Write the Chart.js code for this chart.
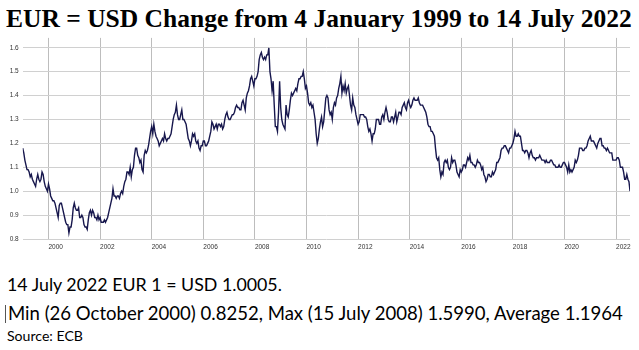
<!DOCTYPE html>
<html>
<head>
<meta charset="utf-8">
<script src="https://cdn.jsdelivr.net/npm/chart.js@4/dist/chart.umd.min.js"></script>
<style>
  html, body { margin: 0; padding: 0; background: #fff; }
  #page { position: relative; width: 639px; height: 350px; overflow: hidden; }
  #title { position: absolute; left: 6px; white-space: nowrap; font-family: "Liberation Serif", serif; font-weight: bold; color: #000; line-height: 1.107; }
  .note { position: absolute; white-space: nowrap; font-family: Lato, sans-serif; color: #000; line-height: 1.2; }
  #cursor { position: absolute; left: 5px; top: 305px; width: 1px; height: 18px; background: #555; }
  #wrap { position: absolute; left: 0; top: 30px; width: 631px; height: 226px; overflow: hidden; }
</style>
</head>
<body>
<div id="page">
  <div id="title">EUR = USD Change from 4 January 1999 to 14 July 2022</div>
  <div id="wrap"><canvas id="fxChart" width="639" height="226"></canvas></div>
  <div class="note" id="line1">14 July 2022 EUR 1 = USD 1.0005.</div>
  <div id="cursor"></div>
  <div class="note" id="line2">Min (26 October 2000) 0.8252, Max (15 July 2008) 1.5990, Average 1.1964</div>
  <div class="note" id="source">Source: ECB</div>
</div>
<script>
  //---------------------------------------------------
  // Data: EUR/USD, two readings per month (1st and 2nd half)
  //---------------------------------------------------
  const firstYear = 1999;
  const perYear = 24;

  const y1999 = [1.18,1.16, 1.13,1.11, 1.09,1.09, 1.08,1.06, 1.07,1.05, 1.04,1.03, 1.02,1.05, 1.07,1.05, 1.04,1.05, 1.08,1.07, 1.04,1.02, 1.01,1.00];
  const y2000 = [1.03,1.01, 0.98,0.97, 0.96,0.96, 0.95,0.93, 0.91,0.89, 0.94,0.95, 0.95,0.93, 0.91,0.89, 0.87,0.86, 0.86,0.8252, 0.85,0.85, 0.88,0.93];
  const y2001 = [0.95,0.93, 0.92,0.92, 0.93,0.89, 0.89,0.90, 0.89,0.86, 0.85,0.85, 0.84,0.88, 0.91,0.92, 0.90,0.92, 0.91,0.89, 0.89,0.88, 0.90,0.88];
  const y2002 = [0.89,0.87, 0.87,0.87, 0.88,0.87, 0.88,0.89, 0.91,0.93, 0.95,0.97, 1.01,0.98, 0.98,0.97, 0.98,0.98, 0.97,0.99, 1.00,0.99, 1.02,1.04];
  const y2003 = [1.05,1.08, 1.08,1.07, 1.10,1.06, 1.09,1.10, 1.15,1.18, 1.18,1.15, 1.14,1.12, 1.13,1.09, 1.08,1.15, 1.17,1.16, 1.17,1.19, 1.22,1.25];
  const y2004 = [1.27,1.24, 1.28,1.25, 1.23,1.22, 1.21,1.19, 1.20,1.21, 1.22,1.21, 1.24,1.22, 1.21,1.22, 1.22,1.23, 1.24,1.27, 1.30,1.32, 1.33,1.36];
  const y2005 = [1.32,1.30, 1.30,1.32, 1.34,1.30, 1.30,1.29, 1.28,1.25, 1.22,1.21, 1.19,1.21, 1.24,1.23, 1.24,1.21, 1.20,1.21, 1.18,1.17, 1.19,1.19];
  const y2006 = [1.21,1.21, 1.19,1.19, 1.20,1.21, 1.23,1.25, 1.29,1.28, 1.26,1.27, 1.28,1.26, 1.28,1.28, 1.27,1.28, 1.26,1.27, 1.30,1.32, 1.33,1.31];
  const y2007 = [1.30,1.30, 1.31,1.32, 1.32,1.33, 1.35,1.36, 1.35,1.35, 1.34,1.34, 1.37,1.38, 1.36,1.34, 1.39,1.41, 1.42,1.44, 1.47,1.48, 1.46,1.44];
  const y2008 = [1.47,1.47, 1.48,1.50, 1.55,1.57, 1.58,1.56, 1.55,1.56, 1.55,1.57, 1.57,1.599, 1.50,1.47, 1.42,1.46, 1.36,1.27, 1.27,1.25, 1.33,1.46];
  const y2009 = [1.35,1.30, 1.28,1.27, 1.26,1.36, 1.32,1.31, 1.34,1.38, 1.41,1.40, 1.41,1.42, 1.43,1.42, 1.45,1.47, 1.47,1.48, 1.48,1.50, 1.47,1.43];
  const y2010 = [1.44,1.41, 1.37,1.36, 1.37,1.35, 1.36,1.33, 1.30,1.24, 1.20,1.22, 1.26,1.29, 1.31,1.27, 1.29,1.34, 1.39,1.40, 1.39,1.34, 1.32,1.33];
  const y2011 = [1.30,1.35, 1.37,1.36, 1.39,1.40, 1.43,1.45, 1.48,1.41, 1.44,1.42, 1.45,1.41, 1.43,1.44, 1.40,1.36, 1.34,1.39, 1.36,1.35, 1.32,1.30];
  const y2012 = [1.28,1.29, 1.32,1.32, 1.32,1.32, 1.31,1.31, 1.30,1.27, 1.25,1.26, 1.24,1.21, 1.24,1.24, 1.26,1.30, 1.30,1.30, 1.28,1.28, 1.31,1.32];
  const y2013 = [1.30,1.33, 1.35,1.33, 1.30,1.29, 1.29,1.31, 1.31,1.29, 1.31,1.33, 1.29,1.31, 1.33,1.33, 1.32,1.35, 1.36,1.37, 1.35,1.34, 1.37,1.38];
  const y2014 = [1.36,1.35, 1.36,1.38, 1.39,1.38, 1.38,1.38, 1.39,1.37, 1.36,1.36, 1.36,1.35, 1.34,1.33, 1.31,1.28, 1.27,1.27, 1.25,1.25, 1.24,1.23];
  const y2015 = [1.18,1.14, 1.13,1.14, 1.09,1.06, 1.08,1.07, 1.12,1.13, 1.12,1.13, 1.10,1.09, 1.10,1.14, 1.12,1.13, 1.13,1.11, 1.08,1.07, 1.06,1.09];
  const y2016 = [1.08,1.09, 1.11,1.11, 1.10,1.12, 1.14,1.13, 1.15,1.12, 1.12,1.11, 1.11,1.10, 1.11,1.13, 1.12,1.12, 1.11,1.09, 1.10,1.07, 1.06,1.04];
  const y2017 = [1.05,1.07, 1.07,1.06, 1.06,1.08, 1.07,1.08, 1.09,1.12, 1.12,1.13, 1.14,1.17, 1.18,1.18, 1.19,1.19, 1.18,1.17, 1.16,1.18, 1.18,1.19];
  const y2018 = [1.20,1.22, 1.25,1.23, 1.23,1.24, 1.23,1.23, 1.20,1.17, 1.17,1.16, 1.17,1.17, 1.16,1.14, 1.16,1.17, 1.15,1.14, 1.14,1.13, 1.14,1.14];
  const y2019 = [1.14,1.15, 1.14,1.13, 1.13,1.13, 1.12,1.13, 1.12,1.12, 1.12,1.13, 1.13,1.12, 1.11,1.11, 1.10,1.10, 1.10,1.11, 1.10,1.10, 1.11,1.12];
  const y2020 = [1.12,1.11, 1.10,1.08, 1.11,1.08, 1.09,1.08, 1.09,1.10, 1.13,1.12, 1.13,1.15, 1.18,1.18, 1.18,1.17, 1.17,1.18, 1.18,1.19, 1.21,1.22];
  const y2021 = [1.23,1.21, 1.21,1.21, 1.20,1.19, 1.18,1.20, 1.21,1.22, 1.22,1.19, 1.19,1.18, 1.18,1.17, 1.18,1.17, 1.16,1.16, 1.16,1.13, 1.13,1.13];
  const y2022 = [1.13,1.14, 1.14,1.13, 1.10,1.10, 1.10,1.08, 1.05,1.05, 1.07,1.05, 1.04,1.0005];

  const yearTicks = [2000, 2002, 2004, 2006, 2008, 2010, 2012, 2014, 2016, 2018, 2020, 2022];
  const rateTicks = [0.8, 0.9, 1.0, 1.1, 1.2, 1.3, 1.4, 1.5, 1.6];

  const years = [y1999, y2000, y2001, y2002, y2003, y2004, y2005, y2006, y2007, y2008, y2009, y2010,
                 y2011, y2012, y2013, y2014, y2015, y2016, y2017, y2018, y2019, y2020, y2021, y2022];

  const points = [];
  years.forEach((vals, yi) => {
    vals.forEach((v, i) => {
      points.push({ x: firstYear + yi + i / perYear, y: v });
    });
  });

  //---------------------------------------------------
  // Text sizing
  //---------------------------------------------------
  function fitFont(el, family, weight, width) {
    const c = document.createElement("canvas").getContext("2d");
    c.font = weight + " 100px " + family;
    const w = c.measureText(el.textContent).width;
    return 100 * width / w;
  }

  function placeNote(id, left, baseline, width) {
    const el = document.getElementById(id);
    const size = fitFont(el, "Lato", "normal", width);
    el.style.fontSize = size + "px";
    el.style.left = left + "px";
    el.style.top = (baseline - 0.987 * size) + "px";
  }

  const title = document.getElementById("title");
  const tSize = fitFont(title, '"Liberation Serif"', "bold", 626);
  title.style.fontSize = tSize + "px";
  title.style.top = (27.5 - 0.891 * tSize) + "px";

  placeNote("line1", 7, 292, 276);
  placeNote("line2", 8, 320, 617);
  placeNote("source", 7, 342, 76);

  //---------------------------------------------------
  // Chart
  //---------------------------------------------------
  const ctx = document.getElementById("fxChart");

  new Chart(ctx, {
    type: "line",
    data: {
      datasets: [
        {
          label: "EUR/USD",
          data: points,
          borderColor: "#17174d",
          borderWidth: 1.4,
          pointRadius: 0,
          fill: false,
          tension: 0,
        },
      ],
    },
    options: {
      responsive: false,
      animation: false,
      layout: { padding: { top: 5, right: 9, left: 0, bottom: 0 } },
      plugins: { legend: { display: false }, tooltip: { enabled: false } },
      scales: {
        x: {
          type: "linear",
          min: 1999.0,
          max: 2022.54,
          afterBuildTicks: (scale) => { scale.ticks = yearTicks.map((v) => ({ value: v })); },
          afterFit: (scale) => { scale.height = 17; },
          border: { display: false },
          grid: { color: "#bdbdbd", lineWidth: 1, drawTicks: false },
          ticks: {
            autoSkip: false,
            maxRotation: 0,
            align: "start",
            padding: 4,
            color: "#333",
            font: { family: "Liberation Sans", size: 6.5 },
            callback: (v) => String(v),
          },
        },
        y: {
          min: 0.8,
          max: 1.641,
          afterBuildTicks: (scale) => { scale.ticks = rateTicks.map((v) => ({ value: v })); },
          afterFit: (scale) => { scale.width = 22.7; },
          border: { display: false },
          grid: { color: "#d0d0d0", lineWidth: 1, drawTicks: false },
          ticks: {
            padding: 4,
            color: "#333",
            font: { family: "Liberation Sans", size: 6.5 },
            callback: (v) => v.toFixed(1),
          },
        },
      },
    },
  });
</script>
</body>
</html>
